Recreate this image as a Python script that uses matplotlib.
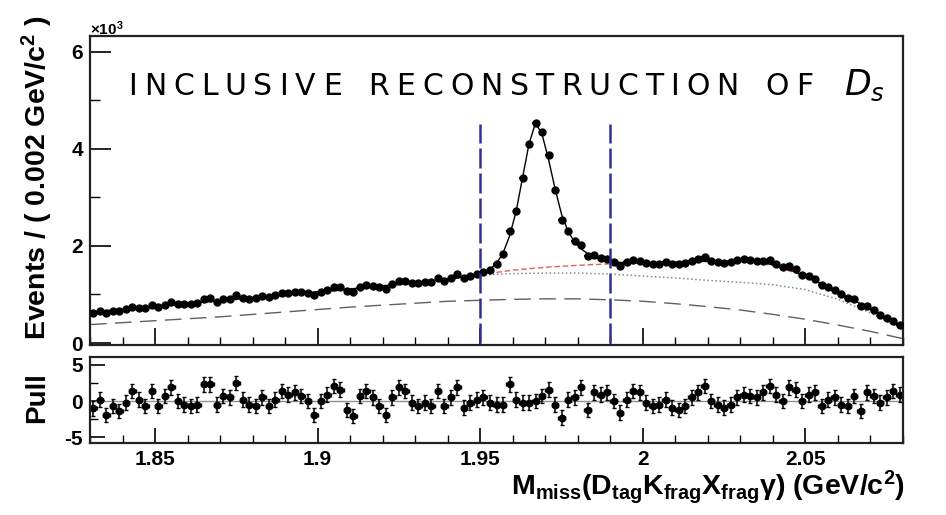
import numpy as np
import matplotlib
matplotlib.use("Agg")
import matplotlib.pyplot as plt
from matplotlib.ticker import FixedLocator, MultipleLocator

# binning of the histogram (125 bins of 0.002 GeV/c^2)
x_lo, x_hi, n_bins = 1.83, 2.08, 125

# events per bin (x10^3)
events = [0.615, 0.657, 0.615, 0.658, 0.652, 0.695, 0.750, 0.729, 0.717, 0.786,
          0.740, 0.792, 0.837, 0.796, 0.794, 0.800, 0.818, 0.911, 0.923, 0.854,
          0.901, 0.907, 0.979, 0.922, 0.913, 0.918, 0.968, 0.942, 0.982, 1.031,
          1.029, 1.050, 1.046, 1.036, 0.987, 1.060, 1.102, 1.153, 1.149, 1.068,
          1.051, 1.157, 1.194, 1.176, 1.148, 1.120, 1.216, 1.278, 1.273, 1.231,
          1.228, 1.259, 1.255, 1.345, 1.285, 1.344, 1.413, 1.329, 1.378, 1.420,
          1.469, 1.512, 1.620, 1.829, 2.308, 2.710, 3.388, 4.087, 4.530, 4.346,
          3.878, 3.152, 2.533, 2.310, 2.103, 2.024, 1.788, 1.820, 1.757, 1.739,
          1.670, 1.594, 1.663, 1.709, 1.699, 1.642, 1.623, 1.635, 1.666, 1.625,
          1.617, 1.641, 1.695, 1.727, 1.768, 1.685, 1.668, 1.653, 1.670, 1.709,
          1.721, 1.705, 1.686, 1.697, 1.709, 1.631, 1.558, 1.579, 1.521, 1.405,
          1.378, 1.326, 1.194, 1.159, 1.102, 1.001, 0.926, 0.899, 0.767, 0.765,
          0.676, 0.577, 0.516, 0.456, 0.365]

# total fit at the bin centres (x10^3)
fit_total = [0.640, 0.652, 0.664, 0.676, 0.688, 0.700, 0.712, 0.724, 0.736, 0.748,
             0.760, 0.772, 0.784, 0.796, 0.808, 0.820, 0.832, 0.844, 0.856, 0.868,
             0.880, 0.892, 0.904, 0.916, 0.928, 0.940, 0.952, 0.964, 0.976, 0.988,
             1.000, 1.012, 1.024, 1.036, 1.048, 1.060, 1.072, 1.084, 1.096, 1.108,
             1.120, 1.133, 1.146, 1.159, 1.172, 1.185, 1.198, 1.211, 1.224, 1.238,
             1.252, 1.266, 1.280, 1.295, 1.310, 1.326, 1.343, 1.362, 1.385, 1.412,
             1.450, 1.520, 1.640, 1.850, 2.200, 2.700, 3.400, 4.100, 4.530, 4.300,
             3.780, 3.180, 2.650, 2.300, 2.080, 1.940, 1.840, 1.770, 1.720, 1.690,
             1.670, 1.660, 1.655, 1.652, 1.650, 1.650, 1.652, 1.655, 1.658, 1.662,
             1.666, 1.670, 1.674, 1.678, 1.682, 1.685, 1.688, 1.690, 1.690, 1.688,
             1.684, 1.676, 1.665, 1.648, 1.625, 1.595, 1.558, 1.505, 1.460, 1.405,
             1.345, 1.283, 1.218, 1.152, 1.085, 1.017, 0.948, 0.878, 0.806, 0.733,
             0.658, 0.582, 0.505, 0.427, 0.348]

# pulls per bin
pulls = [-1.0, 0.2, -1.9, -0.7, -1.4, -0.2, 1.4, 0.2, -0.7, 1.4,
         -0.7, 0.7, 1.9, 0.0, -0.5, -0.7, -0.5, 2.3, 2.3, -0.5,
         0.7, 0.5, 2.5, 0.2, -0.5, -0.7, 0.5, -0.7, 0.2, 1.4,
         0.9, 1.2, 0.7, 0.0, -1.9, 0.0, 0.9, 2.1, 1.6, -1.2,
         -2.1, 0.7, 1.4, 0.5, -0.7, -1.9, 0.5, 1.9, 1.4, -0.2,
         -0.7, -0.2, -0.7, 1.4, -0.7, 0.5, 1.9, -0.9, -0.2, 0.2,
         0.5, -0.2, -0.5, -0.5, 2.3, 0.2, -0.2, -0.2, 0.0, 0.7,
         1.6, -0.5, -2.3, 0.2, 0.5, 1.9, -1.2, 1.2, 0.9, 1.2,
         0.0, -1.6, 0.2, 1.4, 1.2, -0.2, -0.7, -0.5, 0.2, -0.9,
         -1.2, -0.7, 0.5, 1.2, 2.1, 0.0, -0.5, -0.9, -0.5, 0.5,
         0.9, 0.7, 0.5, 1.2, 2.1, 0.9, 0.0, 1.9, 1.6, 0.0,
         0.9, 1.2, -0.7, 0.2, 0.5, -0.5, -0.7, 0.7, -1.4, 1.2,
         0.7, -0.2, 0.5, 1.4, 0.9]

# background components on a 0.01 grid (x10^3)
grid_x = [1.83, 1.84, 1.85, 1.86, 1.87, 1.88, 1.89, 1.90, 1.91, 1.92, 1.93, 1.94, 1.95,
          1.96, 1.97, 1.98, 1.99, 2.00, 2.01, 2.02, 2.03, 2.04, 2.05, 2.06, 2.07, 2.08]
bkg_total = [0.64, 0.70, 0.76, 0.82, 0.88, 0.94, 1.00, 1.06, 1.12, 1.18, 1.25, 1.32, 1.41,
             1.50, 1.56, 1.60, 1.63, 1.645, 1.66, 1.675, 1.68, 1.60, 1.37, 1.05, 0.70, 0.31]
bkg_nonpeak = [0.62, 0.68, 0.74, 0.80, 0.86, 0.92, 0.98, 1.04, 1.10, 1.16, 1.23, 1.31, 1.40,
               1.43, 1.44, 1.44, 1.42, 1.38, 1.34, 1.29, 1.25, 1.20, 1.10, 0.90, 0.62, 0.28]
bkg_comb = [0.38, 0.42, 0.46, 0.50, 0.54, 0.59, 0.64, 0.69, 0.74, 0.78, 0.82, 0.86, 0.88,
            0.90, 0.91, 0.91, 0.89, 0.86, 0.81, 0.75, 0.68, 0.59, 0.49, 0.37, 0.24, 0.09]

# signal window
window_edges = [1.95, 1.99]
window_top = 4.5

xtick_vals = [1.85, 1.9, 1.95, 2.0, 2.05]
xtick_labels = ["1.85", "1.9", "1.95", "2", "2.05"]
ytick_vals = [0, 2, 4, 6]
pull_tick_vals = [-5, 0, 5]
pull_tick_labels = ["-5", "0", "5"]

plt.rcParams["font.family"] = ["Liberation Sans", "DejaVu Sans"]
plt.rcParams["mathtext.fontset"] = "custom"
plt.rcParams["mathtext.rm"] = "Liberation Sans:bold"
plt.rcParams["mathtext.it"] = "Liberation Sans:italic:bold"
plt.rcParams["mathtext.bf"] = "Liberation Sans:bold"

W, H = 946, 515
fig = plt.figure(figsize=(W / 100, H / 100), dpi=100)
ax = fig.add_axes([90 / W, 170 / H, 813 / W, 309 / H])
axp = fig.add_axes([90 / W, 72 / H, 813 / W, 86 / H])

edges = np.linspace(x_lo, x_hi, n_bins + 1)
centres = 0.5 * (edges[:-1] + edges[1:])
half = 0.5 * (edges[1] - edges[0])
ev = np.array(events)
err = np.sqrt(ev * 1000.0) / 1000.0

# top panel
ax.plot(grid_x, bkg_comb, color="#606060", lw=1.0, dashes=(12, 6))
ax.plot(grid_x, bkg_nonpeak, color="#8a8a8a", lw=1.1, ls=":")
ax.plot(grid_x, bkg_total, color="#e06060", lw=1.0, dashes=(4, 2))
ax.plot(centres, fit_total, color="black", lw=1.0)
ax.errorbar(centres, ev, yerr=err, xerr=half, fmt="o", color="black",
            ms=5.0, lw=1.6, capsize=0, zorder=4)
ax.vlines(window_edges, 0, window_top, colors="#30309a", lw=1.8,
          linestyles=(0, (8, 2)), zorder=5)

ax.set_xlim(x_lo, x_hi)
ax.set_ylim(-0.04, 6.32)
ax.xaxis.set_major_locator(FixedLocator(xtick_vals))
ax.xaxis.set_minor_locator(MultipleLocator(0.01))
ax.set_xticklabels([])
ax.yaxis.set_major_locator(FixedLocator(ytick_vals))
ax.yaxis.set_minor_locator(MultipleLocator(1))
ax.tick_params(axis="y", which="major", direction="in", length=15, width=1.2,
               labelsize=15, pad=5)
ax.tick_params(axis="y", which="minor", direction="in", length=7, width=1.0)
ax.tick_params(axis="x", which="major", direction="in", length=12, width=1.2)
ax.tick_params(axis="x", which="minor", direction="in", length=6, width=1.0)
for lab in ax.get_yticklabels():
    lab.set_fontweight("bold")

# pull panel
axp.axhline(0, color="#909090", lw=1.0)
axp.errorbar(centres, pulls, yerr=1.0, xerr=half, fmt="o", color="black",
             ms=4.6, lw=1.1, capsize=1.5)
axp.set_xlim(x_lo, x_hi)
axp.set_ylim(-5.8, 6.1)
axp.xaxis.set_major_locator(FixedLocator(xtick_vals))
axp.xaxis.set_minor_locator(MultipleLocator(0.01))
axp.set_xticklabels(xtick_labels)
axp.yaxis.set_major_locator(FixedLocator(pull_tick_vals))
axp.set_yticklabels(pull_tick_labels)
axp.yaxis.set_minor_locator(MultipleLocator(2.5))
axp.tick_params(axis="both", which="major", direction="in", length=11, width=1.2,
                labelsize=15, pad=5)
axp.tick_params(axis="both", which="minor", direction="in", length=6, width=1.0)
for lab in axp.get_xticklabels() + axp.get_yticklabels():
    lab.set_fontweight("bold")

for a in (ax, axp):
    for s in a.spines.values():
        s.set_linewidth(1.6)
        s.set_color("#222222")

# axis titles
fig.text(37 / W, (H - 178) / H, r"Events / ( 0.002 GeV/c$^{2}$ )", rotation=90,
         ha="center", va="center", fontsize=20.5, fontweight="bold")
fig.text(37 / W, (H - 398) / H, "Pull", rotation=90, ha="center", va="center",
         fontsize=20, fontweight="bold")
fig.text(905 / W, (H - 495) / H,
         r"M$_{\rm miss}$(D$_{\rm tag}$K$_{\rm frag}$X$_{\rm frag}$γ) (GeV/c$^{2}$)",
         ha="right", va="baseline", fontsize=20.5, fontweight="bold")
fig.text(90 / W, (H - 35) / H, r"$\times$10$^{3}$", ha="left", va="baseline",
         fontsize=11, fontweight="bold")

# wide-tracked title, placed letter by letter
renderer = fig.canvas.get_renderer()
x = 128.0
gap, space = 7.0, 20.0
for ch in "INCLUSIVE RECONSTRUCTION OF":
    if ch == " ":
        x += space
        continue
    t = fig.text(x / W, (H - 95) / H, ch, ha="left", va="baseline",
                 fontsize=21.5, family="DejaVu Sans")
    x += t.get_window_extent(renderer).width + gap
fig.text((x + space + 4) / W, (H - 95) / H, r"$D_s$", ha="left", va="baseline",
         fontsize=25, math_fontfamily="dejavusans")

fig.savefig("out.png", dpi=100)
